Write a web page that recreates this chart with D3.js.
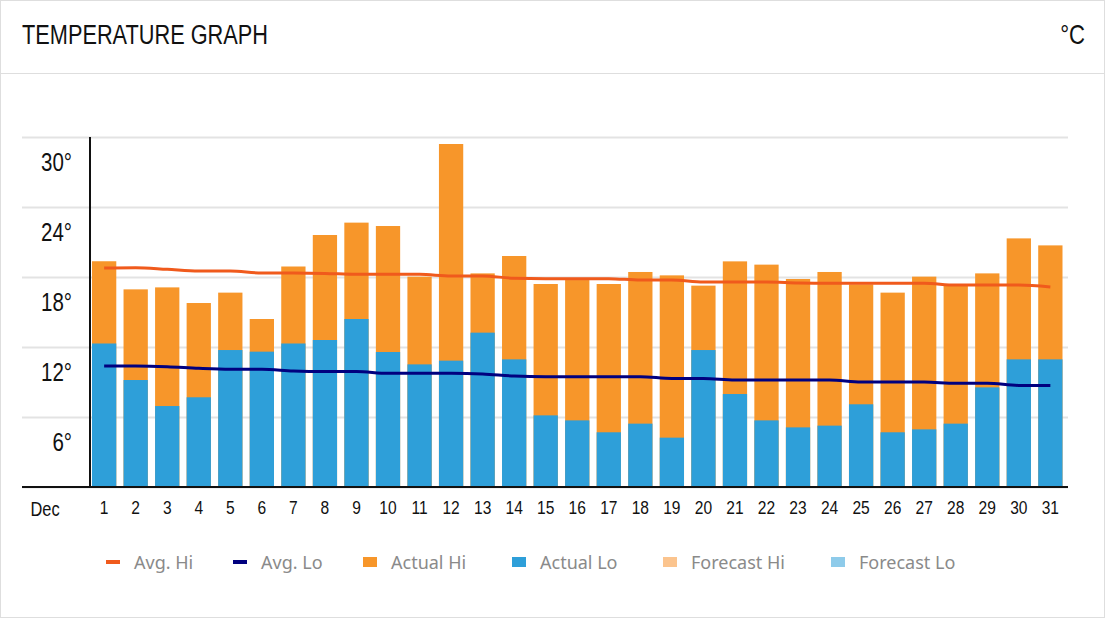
<!DOCTYPE html>
<html><head><meta charset="utf-8">
<script src="https://cdn.jsdelivr.net/npm/d3@7"></script>
<style>body{margin:0;background:#fff} svg{display:block}</style>
</head><body>
<svg id="c" width="1105" height="618"></svg>
<script>
const days = ["1","2","3","4","5","6","7","8","9","10","11","12","13","14","15","16","17","18","19","20","21","22","23","24","25","26","27","28","29","30","31"];
const actualHi = [19.35,16.94,17.11,15.77,16.66,14.4,18.9,21.6,22.66,22.37,18.03,29.4,18.31,19.8,17.4,17.74,17.4,18.43,18.14,17.26,19.34,19.06,17.83,18.43,17.37,16.66,18.03,17.3,18.31,21.31,20.71];
const actualLo = [12.3,9.17,6.94,7.69,11.74,11.6,12.3,12.6,14.4,11.57,10.51,10.83,13.23,10.94,6.14,5.71,4.69,5.43,4.23,11.74,7.97,5.71,5.11,5.26,7.09,4.69,4.94,5.43,8.54,10.94,10.94];
const avgHi = [18.77,18.8,18.66,18.51,18.51,18.34,18.34,18.31,18.23,18.23,18.23,18.09,18.09,17.89,17.86,17.86,17.86,17.74,17.74,17.57,17.57,17.57,17.49,17.46,17.46,17.46,17.46,17.31,17.31,17.31,17.14];
const avgLo = [10.37,10.37,10.31,10.17,10.09,10.09,9.94,9.89,9.89,9.74,9.74,9.74,9.69,9.51,9.46,9.46,9.46,9.46,9.31,9.31,9.17,9.17,9.17,9.17,9.0,9.0,9.0,8.89,8.89,8.71,8.71];
const yTicks = [0,6,12,18,24,30];
const yLabels = [6,12,18,24,30];
const monthLabel = "Dec";
const legendItems = [
  {name:"Avg. Hi", type:"line", color:"#f05a1c"},
  {name:"Avg. Lo", type:"line", color:"#00007f"},
  {name:"Actual Hi", type:"rect", color:"#f7962a"},
  {name:"Actual Lo", type:"rect", color:"#2e9fd9"},
  {name:"Forecast Hi", type:"rect", color:"#fbc48e"},
  {name:"Forecast Lo", type:"rect", color:"#8ecbea"}
];
const legendX = [106,233,363,512,663,831];

const svg = d3.select("#c");
const condensed = "'Liberation Sans',Arial,sans-serif";
const squeeze = "scale(0.82,1)";

// card
svg.append("rect").attr("x",0.5).attr("y",0.5).attr("width",1104).attr("height",617)
  .attr("fill","#fff").attr("stroke","#dedede");
svg.append("line").attr("x1",0).attr("x2",1105).attr("y1",73.5).attr("y2",73.5).attr("stroke","#dedede");
svg.append("text").attr("x",22).attr("y",44).attr("font-family",condensed).attr("font-size",27)
  .attr("textLength",246).attr("lengthAdjust","spacingAndGlyphs")
  .attr("fill","#111").text("TEMPERATURE GRAPH");
svg.append("g").attr("transform","translate(1085,44)").append("text")
  .attr("text-anchor","end").attr("transform",squeeze).attr("font-family",condensed)
  .attr("font-size",27).attr("fill","#111").text("°C");

const x = d3.scaleBand().domain(days).range([92,1062.5]).paddingInner(0.23).paddingOuter(0);
const y = d3.scaleLinear().domain([0,30]).range([487,137]);

// gridlines
const grid = svg.append("g").attr("transform","translate(22,0)")
  .call(d3.axisLeft(y).tickValues(yTicks).tickSize(-1046).tickFormat(""));
grid.select(".domain").remove();
grid.selectAll(".tick line").attr("stroke","#e3e3e3").attr("stroke-width",2);

// y labels (placed below their gridlines)
const yl = svg.append("g").attr("transform","translate(72,25)")
  .call(d3.axisLeft(y).tickValues(yLabels).tickSize(0).tickPadding(0).tickFormat(d=>d+"°"));
yl.select(".domain").remove();
yl.selectAll("text").attr("font-family",condensed).attr("font-size",25).attr("fill","#111")
  .attr("x",0).attr("transform",squeeze);

// bars
const bw = x.bandwidth();
svg.append("g").selectAll("rect").data(days).join("rect")
  .attr("x",d=>x(d)).attr("width",bw)
  .attr("y",(d,i)=>y(actualHi[i])).attr("height",(d,i)=>y(0)-y(actualHi[i]))
  .attr("fill",legendItems[2].color);
svg.append("g").selectAll("rect").data(days).join("rect")
  .attr("x",d=>x(d)).attr("width",bw)
  .attr("y",(d,i)=>y(actualLo[i])).attr("height",(d,i)=>y(0)-y(actualLo[i]))
  .attr("fill",legendItems[3].color);

// avg lines
const line = d3.line().x((d,i)=>x(days[i])+bw/2).y(d=>y(d)).curve(d3.curveMonotoneX);
svg.append("path").datum(avgHi).attr("d",line).attr("fill","none")
  .attr("stroke",legendItems[0].color).attr("stroke-width",3);
svg.append("path").datum(avgLo).attr("d",line).attr("fill","none")
  .attr("stroke",legendItems[1].color).attr("stroke-width",3);

// axes lines
svg.append("line").attr("x1",90).attr("x2",90).attr("y1",137).attr("y2",487).attr("stroke","#111").attr("stroke-width",2);
svg.append("line").attr("x1",22).attr("x2",1068).attr("y1",487).attr("y2",487).attr("stroke","#111").attr("stroke-width",2);

// x labels
const xa = svg.append("g").attr("transform","translate(0,487)")
  .call(d3.axisBottom(x).tickSize(0).tickPadding(14));
xa.select(".domain").remove();
xa.selectAll("text").attr("font-family",condensed).attr("font-size",19).attr("fill","#111")
  .attr("transform",squeeze);
svg.append("g").attr("transform","translate(45,516)").append("text")
  .attr("text-anchor","middle").attr("transform",squeeze).attr("font-family",condensed)
  .attr("font-size",20).attr("fill","#111").text(monthLabel);

// legend
const lg = svg.append("g").selectAll("g").data(legendItems).join("g")
  .attr("transform",(d,i)=>`translate(${legendX[i]},562)`);
lg.filter(d=>d.type==="line").append("rect").attr("x",0).attr("y",-2).attr("width",14).attr("height",4).attr("fill",d=>d.color);
lg.filter(d=>d.type==="rect").append("rect").attr("x",0).attr("y",-5).attr("width",14).attr("height",10).attr("fill",d=>d.color);
lg.append("text").attr("x",28).attr("y",7).attr("font-family","'Noto Sans',sans-serif").attr("font-size",18)
  .attr("fill","#8a8a8a").text(d=>d.name);
</script>
</body></html>
